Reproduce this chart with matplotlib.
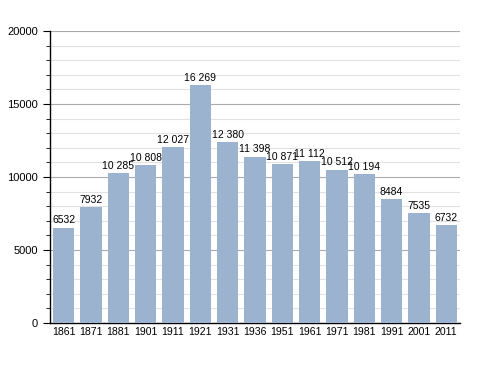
import matplotlib
matplotlib.use("Agg")
import matplotlib.pyplot as plt
from matplotlib.ticker import MultipleLocator

plt.rcParams["font.family"] = ["Liberation Sans", "DejaVu Sans"]

years = ["1861", "1871", "1881", "1901", "1911", "1921", "1931", "1936",
         "1951", "1961", "1971", "1981", "1991", "2001", "2011"]
population = [6532, 7932, 10285, 10808, 12027, 16269, 12380, 11398,
              10871, 11112, 10512, 10194, 8484, 7535, 6732]

fig = plt.figure(figsize=(4.88, 3.73), dpi=100)
ax = fig.add_axes([0.1025, 0.134, 0.84, 0.783])

x = range(len(years))
ax.bar(x, population, width=0.78, color="#9bb3cf", zorder=3)

for xi, v in zip(x, population):
    label = f"{v:,}".replace(",", " ") if v >= 10000 else str(v)
    ax.text(xi, v + 150, label, ha="center", va="bottom", fontsize=7.5, zorder=4)

ax.set_xlim(-0.5, len(years) - 0.5)
ax.set_ylim(0, 20000)
ax.set_xticks(list(x))
ax.set_xticklabels(years, fontsize=7.6)
ax.tick_params(axis="x", length=0, pad=3)
ax.yaxis.set_major_locator(MultipleLocator(5000))
ax.yaxis.set_minor_locator(MultipleLocator(1000))
ax.tick_params(axis="y", which="major", labelsize=8, length=5, direction="out")
ax.tick_params(axis="y", which="minor", length=3, direction="out")
ax.grid(axis="y", which="major", color="#aaaaaa", linewidth=0.8, zorder=0)
ax.grid(axis="y", which="minor", color="#e2e2e2", linewidth=0.8, zorder=0)
for side in ["top", "right"]:
    ax.spines[side].set_visible(False)
ax.spines["left"].set_linewidth(1.0)
ax.spines["bottom"].set_linewidth(1.0)

fig.savefig("out.png", dpi=100)
